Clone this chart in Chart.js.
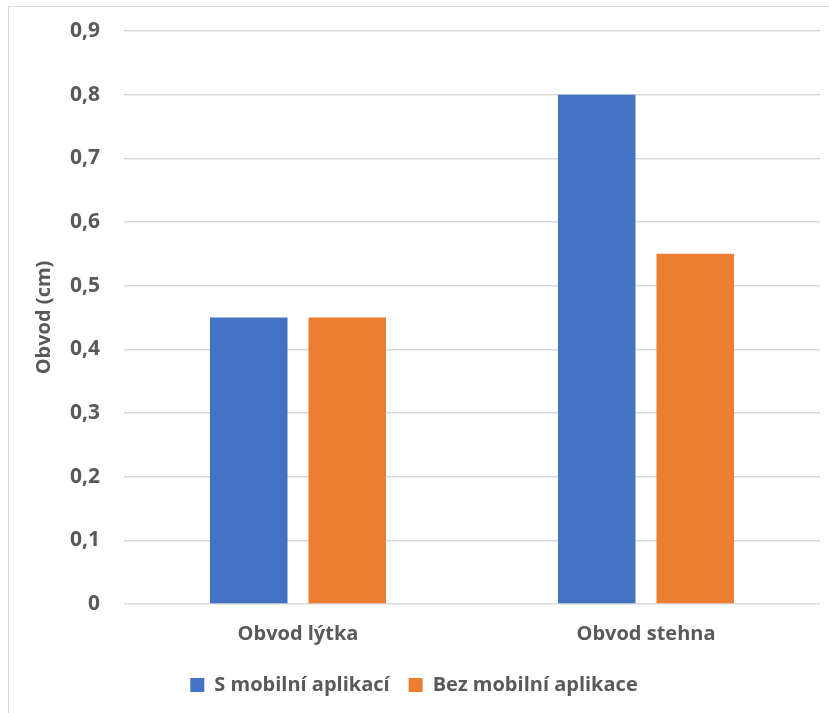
<!DOCTYPE html>
<html>
<head>
<meta charset="utf-8">
<script src="https://cdn.jsdelivr.net/npm/chart.js@4/dist/chart.umd.min.js"></script>
<style>
html,body{margin:0;padding:0;background:#fff;}
#wrap{position:relative;width:829px;height:713px;}
#frame{position:absolute;left:8px;top:6px;right:0;bottom:0;border-top:1px solid #d9d9d9;border-left:1px solid #d9d9d9;}
canvas{position:absolute;left:0;top:0;}
</style>
</head>
<body>
<div id="wrap">
<div id="frame"></div>
<canvas id="c" width="829" height="713"></canvas>
</div>
<script>
const categories = ["Obvod lýtka", "Obvod stehna"];
const seriesNames = ["S mobilní aplikací", "Bez mobilní aplikace"];
const sMobilniAplikaci = [0.45, 0.80];
const bezMobilniAplikace = [0.45, 0.55];
const yTicks = [0, 0.1, 0.2, 0.3, 0.4, 0.5, 0.6, 0.7, 0.8, 0.9];
const yTitle = "Obvod (cm)";

const gray = '#595959';
const fontFamily = '"Open Sans", "Liberation Sans", sans-serif';

new Chart(document.getElementById('c'), {
  type: 'bar',
  data: {
    labels: categories,
    datasets: [
      {label: seriesNames[0], data: sMobilniAplikaci, backgroundColor: '#4472C4'},
      {label: seriesNames[1], data: bezMobilniAplikace, backgroundColor: '#ED7D31'}
    ]
  },
  options: {
    responsive: false,
    animation: false,
    devicePixelRatio: 1,
    categoryPercentage: 0.566,
    barPercentage: 0.787,
    layout: {padding: {left: 8, right: 9, top: 31, bottom: 8}},
    plugins: {
      tooltip: {enabled: false},
      legend: {
        position: 'bottom',
        labels: {
          boxWidth: 14, boxHeight: 14, padding: 19,
          color: gray,
          font: {family: fontFamily, size: 20, weight: 'bold'}
        }
      }
    },
    scales: {
      x: {
        grid: {display: false},
        border: {display: false},
        ticks: {color: gray, padding: 10, font: {family: fontFamily, size: 20, weight: 'bold'}}
      },
      y: {
        min: 0, max: 0.9,
        afterBuildTicks: (axis) => { axis.ticks = yTicks.map(v => ({value: v})); },
        afterFit: (axis) => { axis.width = 116; axis.paddingTop = 0; axis.paddingBottom = 0; },
        grid: {color: '#d9d9d9', lineWidth: 1.5, drawTicks: false},
        border: {display: false},
        title: {display: true, text: yTitle, color: gray, padding: {top: 24, bottom: 0}, font: {family: fontFamily, size: 20, weight: 'bold'}},
        ticks: {
          color: gray, padding: 24,
          font: {family: fontFamily, size: 21, weight: 'bold'},
          callback: (v) => v === 0 ? '0' : v.toFixed(1).replace('.', ',')
        }
      }
    }
  }
});
</script>
</body>
</html>
